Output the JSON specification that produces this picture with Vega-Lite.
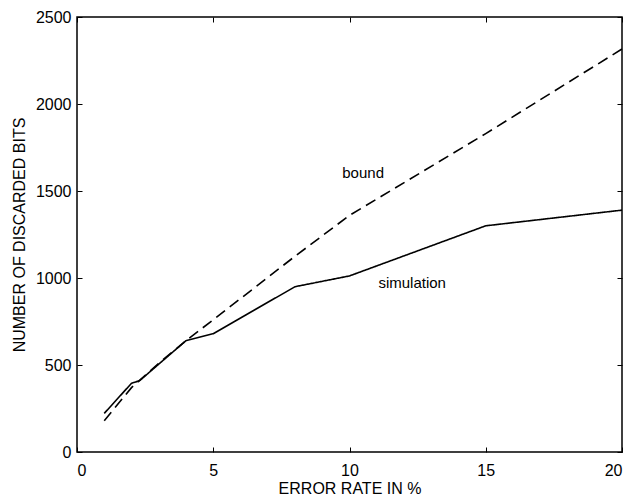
{
  "$schema": "https://vega.github.io/schema/vega-lite/v6.json",
  "width": 545,
  "height": 435,
  "autosize": "none",
  "padding": {"left": 77, "top": 17, "right": 9, "bottom": 45},
  "background": "white",
  "config": {
    "view": {"stroke": "black", "strokeWidth": 1.5},
    "font": "Liberation Sans",
    "axis": {
      "domain": false,
      "grid": false,
      "tickColor": "black",
      "tickSize": -5,
      "tickWidth": 1,
      "labelColor": "black",
      "labelFontSize": 16,
      "labelFont": "Liberation Sans",
      "titleColor": "black",
      "titleFont": "Liberation Sans",
      "titleFontWeight": "normal"
    }
  },
  "datasets": {
    "curves": [
      {"rate": 1, "bits": 180, "series": "bound"},
      {"rate": 2, "bits": 370, "series": "bound"},
      {"rate": 3, "bits": 510, "series": "bound"},
      {"rate": 4, "bits": 640, "series": "bound"},
      {"rate": 5, "bits": 760, "series": "bound"},
      {"rate": 8, "bits": 1125, "series": "bound"},
      {"rate": 10, "bits": 1360, "series": "bound"},
      {"rate": 15, "bits": 1830, "series": "bound"},
      {"rate": 20, "bits": 2316, "series": "bound"},
      {"rate": 1, "bits": 222, "series": "simulation"},
      {"rate": 2, "bits": 395, "series": "simulation"},
      {"rate": 2.3, "bits": 410, "series": "simulation"},
      {"rate": 3, "bits": 505, "series": "simulation"},
      {"rate": 4, "bits": 640, "series": "simulation"},
      {"rate": 5, "bits": 680, "series": "simulation"},
      {"rate": 8, "bits": 950, "series": "simulation"},
      {"rate": 10, "bits": 1012, "series": "simulation"},
      {"rate": 15, "bits": 1300, "series": "simulation"},
      {"rate": 20, "bits": 1390, "series": "simulation"}
    ],
    "labels": [
      {"rate": 10.5, "bits": 1603, "label": "bound"},
      {"rate": 12.3, "bits": 971, "label": "simulation"}
    ]
  },
  "layer": [
    {
      "data": {"name": "curves"},
      "mark": {"type": "line", "color": "black", "strokeWidth": 1.6},
      "encoding": {
        "x": {
          "field": "rate", "type": "quantitative",
          "scale": {"domain": [0, 20], "nice": false},
          "axis": {"values": [0, 5, 10, 15, 20], "format": "d", "title": "ERROR RATE IN %", "titleFontSize": 16, "labelPadding": 15, "titlePadding": 2}
        },
        "y": {
          "field": "bits", "type": "quantitative",
          "scale": {"domain": [0, 2500], "nice": false},
          "axis": {"values": [0, 500, 1000, 1500, 2000, 2500], "format": "d", "title": "NUMBER OF DISCARDED BITS", "titleFontSize": 16, "labelPadding": 11, "titlePadding": 8}
        },
        "detail": {"field": "series"},
        "strokeDash": {
          "field": "series", "type": "nominal",
          "scale": {"domain": ["bound", "simulation"], "range": [[11, 6], [1, 0]]},
          "legend": null
        }
      }
    },
    {
      "data": {"name": "curves"},
      "mark": {"type": "point", "opacity": 0},
      "encoding": {
        "x": {
          "field": "rate", "type": "quantitative",
          "axis": {"orient": "top", "values": [0, 5, 10, 15, 20], "labels": false, "title": null}
        },
        "y": {
          "field": "bits", "type": "quantitative",
          "axis": {"orient": "right", "values": [0, 500, 1000, 1500, 2000, 2500], "labels": false, "title": null}
        }
      }
    },
    {
      "data": {"name": "labels"},
      "mark": {"type": "text", "color": "black", "fontSize": 15, "font": "Liberation Sans", "align": "center", "baseline": "middle"},
      "encoding": {
        "x": {"field": "rate", "type": "quantitative", "axis": null},
        "y": {"field": "bits", "type": "quantitative", "axis": null},
        "text": {"field": "label"}
      }
    }
  ],
  "resolve": {"axis": {"x": "independent", "y": "independent"}}
}
